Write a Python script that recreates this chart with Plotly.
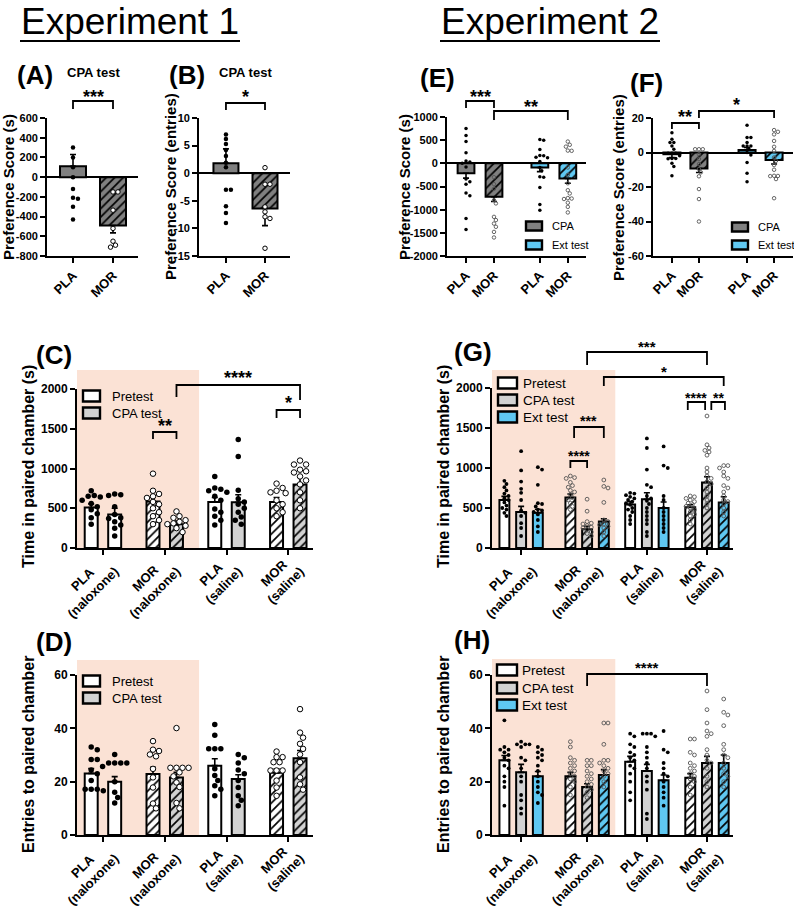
import plotly.graph_objects as go

W, H = 794, 907
FONT = "Liberation Sans"

# ====================== DATA ======================
# (A) CPA test - preference score (s)
A_cats = ["PLA", "MOR"]
A_mean = [110, -490]
A_sem = [120, 75]
A_pts = [[300, 200, 100, 0, -120, -210, -220, -300, -430],
         [-150, -150, -335, -520, -650, -690, -710]]

# (B) CPA test - preference score (entries)
B_cats = ["PLA", "MOR"]
B_mean = [1.8, -6.4]
B_sem = [2.6, 3.1]
B_pts = [[7.0, 6.2, 5.3, 4.2, 3.1, 1.9, 1.1, -3.0, -3.0, -6.0, -7.2, -9.0],
         [1.0, -2.0, -2.0, -6.1, -7.0, -7.9, -8.2, -13.6]]

# (E) preference score (s): CPA (PLA, MOR), Ext test (PLA, MOR)
E_cats = ["PLA", "MOR", "PLA", "MOR"]
E_mean = [-215, -720, -90, -325]
E_sem = [105, 105, 90, 105]
E_pts = [[750, 600, 470, 230, 50, 30, 0, -80, -340, -400, -450, -640, -700, -1190, -1430],
         [-300, -450, -550, -795, -865, -1155, -1225, -1300, -1370, -1480, -1600],
         [515, 500, 300, 170, 165, 130, 120, 40, -90, -160, -290, -300, -520, -890, -1010],
         [470, 400, 360, 275, 270, -90, -250, -430, -580, -650, -750, -760, -770, -850, -940, -1060]]

# (F) preference score (entries)
F_cats = ["PLA", "MOR", "PLA", "MOR"]
F_mean = [-1.0, -9.3, 1.5, -4.3]
F_sem = [2.0, 2.3, 1.4, 2.4]
F_pts = [[11.5, 7.7, 5.8, 5.8, 3.8, 1.9, -0.4, -0.4, -0.5, -1.9, -3.5, -3.5, -3.6, -6.2, -8.1, -13.5],
         [1.9, 1.9, 1.9, -1.0, -3.8, -6.7, -9.6, -11.5, -13.8, -21.2, -27.0, -40.0],
         [15.8, 8.7, 8.7, 5.8, 3.8, 3.8, 3.7, 1.9, 0.0, -1.5, -5.8, -12.0, -17.0],
         [13.0, 12.0, 10.5, 6.7, 3.3, 0.9, -2.9, -4.8, -7.3, -10.0, -13.5, -13.6, -13.7, -15.4, -26.5]]

# Group labels for C, D, G, H
grp_labels = ["PLA\u00a0\u00a0\u00a0\u00a0\u00a0<br>(naloxone)", "MOR\u00a0\u00a0\u00a0\u00a0<br>(naloxone)",
              "PLA\u00a0\u00a0\u00a0<br>(saline)", "MOR\u00a0\u00a0<br>(saline)"]
grp_drug = ["PLA", "MOR", "PLA", "MOR"]

# (C) Time in paired chamber (s): Pretest, CPA test
C_Pre_mean = [510, 585, 580, 580]
C_Pre_sem = [45, 60, 55, 55]
C_CPA_mean = [420, 300, 575, 800]
C_CPA_sem = [80, 40, 95, 90]
C_Pre_pts = [[720, 660, 650, 640, 600, 560, 520, 480, 430, 380, 300],
             [935, 720, 680, 650, 630, 580, 550, 500, 450, 400, 350, 300],
             [900, 755, 740, 720, 700, 650, 600, 490, 450, 400, 350, 290],
             [810, 755, 720, 700, 690, 600, 550, 500, 450, 400]]
C_CPA_pts = [[680, 670, 660, 520, 420, 380, 370, 330, 290, 250, 150],
             [460, 400, 380, 350, 330, 310, 300, 280, 250, 200],
             [1365, 1150, 725, 620, 580, 550, 500, 450, 390, 350, 300],
             [1100, 1050, 1050, 985, 965, 950, 900, 850, 800, 700, 600, 500]]

# (D) Entries to paired chamber: Pretest, CPA test
D_Pre_mean = [23.1, 22.9, 26.0, 23.3]
D_Pre_sem = [1.8, 2.5, 2.6, 1.5]
D_CPA_mean = [20.0, 21.6, 21.0, 28.8]
D_CPA_sem = [1.9, 1.9, 1.6, 2.9]
D_Pre_pts = [[33, 32, 28.3, 28.3, 24.4, 23, 20.4, 17.2, 17.2, 17.2, 16.6],
             [35.2, 32, 31.5, 30.2, 29.5, 24.8, 21.6, 17.8, 11.8, 10],
             [41.4, 37.4, 32.3, 32.3, 32.3, 24.8, 22.3, 20.4, 18.5, 17.2, 14.7],
             [31.3, 29.2, 29.2, 27.3, 27.3, 24.2, 24.2, 24.2, 20.4, 17.8, 14.7]]
D_CPA_pts = [[30.2, 27, 27, 27, 27, 25.7, 20, 16, 14.1, 12],
             [40.1, 25.2, 25.2, 25.2, 25.2, 23.5, 22, 19.7, 18, 12, 10],
             [30.2, 29, 27, 24.4, 23, 20.4, 17.8, 14.7, 13, 11],
             [47.2, 38.4, 36.5, 34.2, 32.3, 30.2, 27.3, 21.6, 19, 17]]

# (G) Time in paired chamber (s): Pretest, CPA test, Ext test
G_Pre_mean = [600, 630, 545, 510]
G_Pre_sem = [45, 45, 35, 30]
G_CPA_mean = [450, 235, 610, 820]
G_CPA_sem = [70, 35, 80, 70]
G_Ext_mean = [440, 330, 500, 570]
G_Ext_sem = [45, 35, 75, 70]
G_Pre_pts = [[840, 800, 760, 720, 680, 650, 620, 600, 570, 530, 500, 480, 440, 400],
             [900, 880, 870, 820, 780, 760, 720, 700, 670, 630, 600, 560, 520, 480],
             [690, 680, 660, 640, 620, 600, 580, 560, 540, 500, 480, 450, 400, 350, 300],
             [650, 640, 620, 600, 580, 560, 540, 520, 500, 480, 450, 420, 400, 350, 300]]
G_CPA_pts = [[1210, 970, 830, 740, 690, 600, 470, 440, 400, 310, 250, 150],
             [610, 460, 330, 310, 300, 280, 260, 250, 230, 200, 180, 150],
             [1370, 1250, 980, 790, 760, 650, 620, 590, 550, 500, 450, 400, 350, 300, 200, 150],
             [1650, 1290, 1250, 1220, 1200, 1160, 1000, 950, 900, 870, 830, 800, 750, 700, 650, 600, 550, 500]]
G_Ext_pts = [[1010, 980, 790, 560, 550, 520, 480, 470, 450, 420, 350, 270, 200],
             [850, 770, 750, 570, 350, 330, 300, 290, 270, 250, 200, 150],
             [1270, 1030, 1000, 650, 600, 500, 450, 400, 350, 300, 250, 200],
             [1030, 1030, 1000, 950, 900, 870, 780, 750, 700, 650, 600, 580, 550, 500, 450, 400]]

# (H) Entries to paired chamber: Pretest, CPA test, Ext test
H_Pre_mean = [28, 22, 27.5, 21.5]
H_Pre_sem = [1.8, 1.5, 2.0, 1.5]
H_CPA_mean = [23.5, 18, 24, 27]
H_CPA_sem = [3.0, 1.2, 2.5, 2.5]
H_Ext_mean = [22, 22.5, 20.5, 27]
H_Ext_sem = [1.8, 2.0, 2.0, 3.0]
H_Pre_pts = [[43, 33, 32, 32, 31, 30, 29, 28, 26, 25, 22, 20, 18, 11],
             [35, 33, 29, 28, 27, 26, 25, 24, 23, 22, 21, 20, 18, 15],
             [38, 37, 34, 33, 31, 30, 29, 28, 26, 25, 23, 20, 16, 13],
             [36, 36, 31, 30, 27, 26, 25, 24, 23, 22, 21, 20, 18, 15]]
H_CPA_pts = [[35, 34, 34, 34, 33, 29, 28, 25, 22, 20, 15, 13, 10, 8],
             [28, 28, 26, 26, 24, 23, 22, 21, 20, 19, 18, 17, 16, 14],
             [38, 38, 38, 37, 33, 31, 29, 27, 25, 22, 20, 17, 8, 6],
             [54, 47, 42, 39, 38, 37, 32, 30, 28, 27, 25, 22, 20, 18]]
H_Ext_pts = [[33, 32, 31, 30, 29, 28, 26, 24, 22, 20, 18, 16, 15, 12],
             [42, 42, 34, 28, 28, 27, 26, 25, 24, 23, 22, 20, 18],
             [39, 32, 31, 27, 25, 23, 22, 20, 18, 16, 14, 11],
             [51, 46, 45, 41, 34, 32, 30, 29, 27, 25, 23, 22, 20, 18]]

# ====================== STYLE ======================
DARK = "#808080"
LIGHT = "#d2d2d2"
BLUE = "#5fc8f2"
SHADE = "#fbe2d5"
WHITE = "#ffffff"
LW = 1.8

fig = go.Figure()
shapes = []
annotations = []
AX = {}


def names(k):
    s = "" if k == 1 else str(k)
    return "x" + s, "y" + s, "xaxis" + s, "yaxis" + s


def setup(k, xpx, ypx, xr, yr, xt, xtt, yt, xfs, yfs, zero=False, standoff=0):
    xn, yn, xa, ya = names(k)
    common = dict(showline=True, linecolor="black", linewidth=LW, ticks="outside",
                  ticklen=5, tickwidth=LW, tickcolor="black", showgrid=False,
                  fixedrange=True, automargin=False)
    ytt = [("%g" % v) for v in yt]
    fig.update_layout(**{
        xa: dict(domain=[xpx[0] / W, xpx[1] / W], range=xr, anchor=yn,
                 tickmode="array", tickvals=xt, ticktext=xtt, tickangle=-45,
                 ticklabelstandoff=standoff,
                 tickfont=dict(family=FONT, size=xfs, color="black", weight="bold"),
                 zeroline=False, **common),
        ya: dict(domain=[1 - ypx[1] / H, 1 - ypx[0] / H], range=yr, anchor=xn,
                 tickmode="array", tickvals=yt, ticktext=ytt,
                 tickfont=dict(family=FONT, size=yfs, color="black", weight="bold"),
                 zeroline=zero, zerolinecolor="black", zerolinewidth=LW, **common),
    })
    AX[k] = dict(xppu=(xpx[1] - xpx[0]) / (xr[1] - xr[0]),
                 yppu=(ypx[1] - ypx[0]) / (yr[1] - yr[0]))


def add_bar(k, x, mean, sem, fill, hatched, width):
    xn, yn, _, _ = names(k)
    up = sem if mean >= 0 else 0
    dn = sem if mean < 0 else 0
    marker = dict(color=fill, line=dict(color="black", width=2))
    if hatched:
        marker["pattern"] = dict(shape="/", fgcolor="black", bgcolor=fill, size=6,
                                 solidity=0.28, fillmode="replace")
    fig.add_trace(go.Bar(x=[x], y=[mean], width=[width], marker=marker, xaxis=xn, yaxis=yn,
                         error_y=dict(type="data", symmetric=False, array=[up], arrayminus=[dn],
                                      color="black", thickness=1.6, width=3),
                         showlegend=False, hoverinfo="skip"))


def swarm(vals, size, yppu):
    placed = []
    out = [0.0] * len(vals)
    order = sorted(range(len(vals)), key=lambda i: -vals[i])
    cands = [0.0]
    for j in range(1, 30):
        cands += [j * size * 0.55, -j * size * 0.55]
    for i in order:
        yp = vals[i] * yppu
        chosen = 0.0
        for c in cands:
            if all((c - px) ** 2 + (yp - py) ** 2 >= (size * 0.98) ** 2 for px, py in placed):
                chosen = c
                break
        placed.append((chosen, yp))
        out[i] = chosen
    return out


def add_points(k, x, vals, filled, size, style="big"):
    xn, yn, _, _ = names(k)
    offs = swarm(vals, size, AX[k]["yppu"])
    xs = [x + o / AX[k]["xppu"] for o in offs]
    if filled:
        mk = dict(symbol="circle", size=size, color="black", line=dict(width=0))
    elif style == "big":
        mk = dict(symbol="circle", size=size, color="white", line=dict(color="black", width=1))
    else:
        mk = dict(symbol="circle-open", size=size, color="#555555", line=dict(width=0.9))
    fig.add_trace(go.Scatter(x=xs, y=vals, mode="markers", marker=mk, xaxis=xn, yaxis=yn,
                             showlegend=False, hoverinfo="skip", cliponaxis=False))


def bracket(k, xa, xb, y, ya_end, yb_end, text, ty, fs=18):
    xn = names(k)[0]
    path = "M %f,%f L %f,%f L %f,%f L %f,%f" % (xa, 1 - ya_end / H, xa, 1 - y / H,
                                                 xb, 1 - y / H, xb, 1 - yb_end / H)
    shapes.append(dict(type="path", xref=xn, yref="paper", path=path,
                       line=dict(color="black", width=LW)))
    annotations.append(dict(xref=xn, yref="paper", x=(xa + xb) / 2, y=1 - (ty + 0.25 * fs) / H,
                            text="<b>%s</b>" % text, showarrow=False,
                            font=dict(family=FONT, size=fs, color="black"),
                            xanchor="center", yanchor="middle"))


def text(x, y, s, size, bold=False, angle=0, anchor="center"):
    annotations.append(dict(xref="paper", yref="paper", x=x / W, y=1 - y / H,
                            text=("<b>%s</b>" % s) if bold else s, showarrow=False,
                            textangle=angle, font=dict(family=FONT, size=size, color="black"),
                            xanchor=anchor, yanchor="middle"))


def legend(items, x0, x1, rows, h, tx, fs):
    for (lab, fill), yc in zip(items, rows):
        shapes.append(dict(type="rect", xref="paper", yref="paper", x0=x0 / W, x1=x1 / W,
                           y0=1 - (yc + h / 2) / H, y1=1 - (yc - h / 2) / H,
                           fillcolor=fill, line=dict(color="black", width=2.4)))
        text(tx, yc, lab, fs, anchor="left")


def shade(k, x0, x1, ytop, ybot):
    xn = names(k)[0]
    shapes.append(dict(type="rect", xref=xn, yref="paper", x0=x0, x1=x1,
                       y0=1 - ybot / H, y1=1 - ytop / H, fillcolor=SHADE,
                       line=dict(width=0), layer="below"))


# ====================== PANEL A ======================
posA = [0, 1]
setup(1, (47, 138), (118, 256), [-0.65, 1.625], [-800, 600], posA, A_cats,
      list(range(-800, 601, 200)), 13, 11, zero=True)
for i in range(2):
    add_bar(1, posA[i], A_mean[i], A_sem[i], DARK, A_cats[i] == "MOR", 0.65)
    add_points(1, posA[i], A_pts[i], A_cats[i] == "PLA", 4.5)
bracket(1, 0, 1, 101, 109, 109, "***", 92)

# ====================== PANEL B ======================
setup(2, (199, 290), (118, 256), [-0.69, 1.64], [-15, 10], posA, B_cats,
      [-15, -10, -5, 0, 5, 10], 13, 11, zero=True)
for i in range(2):
    add_bar(2, posA[i], B_mean[i], B_sem[i], DARK, B_cats[i] == "MOR", 0.64)
    add_points(2, posA[i], B_pts[i], B_cats[i] == "PLA", 4.5)
bracket(2, 0, 1, 103, 110, 110, "*", 92)

# ====================== PANEL E ======================
posE = [0, 1, 2.64, 3.64]
setup(3, (447, 586), (117, 256), [-0.68, 4.29], [-2000, 1000], posE, E_cats,
      list(range(-2000, 1001, 500)), 13, 11, zero=True)
for i in range(4):
    add_bar(3, posE[i], E_mean[i], E_sem[i], DARK if i < 2 else BLUE, E_cats[i] == "MOR", 0.6)
    add_points(3, posE[i], E_pts[i], E_cats[i] == "PLA", 3.5, style="small")
bracket(3, posE[0], posE[1], 101, 108, 108, "***", 92)
bracket(3, posE[1], posE[3], 111, 120, 120, "**", 102)

# ====================== PANEL F ======================
posF = [0, 1, 2.78, 3.78]
setup(4, (653, 793), (118, 256), [-0.7, 4.48], [-60, 20], posF, F_cats,
      [-60, -40, -20, 0, 20], 13, 11, zero=True)
for i in range(4):
    add_bar(4, posF[i], F_mean[i], F_sem[i], DARK if i < 2 else BLUE, F_cats[i] == "MOR", 0.63)
    add_points(4, posF[i], F_pts[i], F_cats[i] == "PLA", 3.5, style="small")
bracket(4, posF[0], posF[1], 123, 129, 129, "**", 113)
bracket(4, posF[1], posF[3], 111, 118, 118, "*", 101)

# ====================== PANEL C ======================
posC = [0, 1, 2, 3]
offC = 0.19
setup(5, (77, 313), (389, 548), [-0.42, 3.40], [0, 2000], posC, grp_labels,
      [0, 500, 1000, 1500, 2000], 13, 12, standoff=-8)
shade(5, -0.42, 1.556, 370, 548)
for i in range(4):
    mor = grp_drug[i] == "MOR"
    cpa_fill = WHITE if i == 0 else LIGHT
    add_bar(5, posC[i] - offC, C_Pre_mean[i], C_Pre_sem[i], WHITE, mor, 0.21)
    add_bar(5, posC[i] + offC, C_CPA_mean[i], C_CPA_sem[i], cpa_fill, mor, 0.21)
    add_points(5, posC[i] - offC, C_Pre_pts[i], not mor, 5.5)
    add_points(5, posC[i] + offC, C_CPA_pts[i], not mor, 5.5)
bracket(5, 1 - offC, 1 + offC, 432, 439, 439, "**", 422)
bracket(5, 3 - offC, 3 + offC, 410, 418, 418, "*", 398)
bracket(5, 1 + offC, 3 + offC, 385, 397, 400, "****", 373)
legend([("Pretest", WHITE), ("CPA test", LIGHT)], 83, 100, [396, 413], 11, 110, 13)

# ====================== PANEL D ======================
setup(6, (77, 313), (675, 835), [-0.42, 3.40], [0, 60], posC, grp_labels,
      [0, 20, 40, 60], 13, 12, standoff=-8)
shade(6, -0.42, 1.556, 660, 835)
for i in range(4):
    mor = grp_drug[i] == "MOR"
    cpa_fill = WHITE if i == 0 else LIGHT
    add_bar(6, posC[i] - offC, D_Pre_mean[i], D_Pre_sem[i], WHITE, mor, 0.21)
    add_bar(6, posC[i] + offC, D_CPA_mean[i], D_CPA_sem[i], cpa_fill, mor, 0.21)
    add_points(6, posC[i] - offC, D_Pre_pts[i], not mor, 5.5)
    add_points(6, posC[i] + offC, D_CPA_pts[i], not mor, 5.5)
legend([("Pretest", WHITE), ("CPA test", LIGHT)], 83, 100, [681, 698], 11, 110, 13)

# ====================== PANEL G ======================
posG = [0, 1.065, 2.03, 3.0]
offG = 0.27
setup(7, (492, 733), (388, 548), [-0.47, 3.42], [0, 2000], posG, grp_labels,
      [0, 500, 1000, 1500, 2000], 13, 12, standoff=-8)
shade(7, -0.47, 1.52, 370, 548)
for i in range(4):
    mor = grp_drug[i] == "MOR"
    add_bar(7, posG[i] - offG, G_Pre_mean[i], G_Pre_sem[i], WHITE, mor, 0.16)
    add_bar(7, posG[i], G_CPA_mean[i], G_CPA_sem[i], LIGHT, mor, 0.16)
    add_bar(7, posG[i] + offG, G_Ext_mean[i], G_Ext_sem[i], BLUE, mor, 0.16)
    add_points(7, posG[i] - offG, G_Pre_pts[i], not mor, 3.8, style="small")
    add_points(7, posG[i], G_CPA_pts[i], not mor, 3.8, style="small")
    add_points(7, posG[i] + offG, G_Ext_pts[i], not mor, 3.8, style="small")
bracket(7, posG[1], posG[3], 352, 365, 365, "***", 343, 15)
bracket(7, posG[1] + offG, posG[3] + offG, 377, 386, 386, "*", 368, 15)
bracket(7, posG[3] - offG - 0.04, posG[3] - 0.03, 402, 410, 410, "****", 394, 14)
bracket(7, posG[3] + 0.07, posG[3] + offG + 0.02, 402, 410, 410, "**", 394, 14)
bracket(7, posG[1] - offG, posG[1], 461, 468, 468, "****", 452, 14)
bracket(7, posG[1] - offG + 0.06, posG[1] + offG, 427, 438, 438, "***", 418, 14)
legend([("Pretest", WHITE), ("CPA test", LIGHT), ("Ext test", BLUE)], 498, 517,
       [383, 400, 417], 11, 521, 13.5)

# ====================== PANEL H ======================
setup(8, (492, 733), (675, 835), [-0.47, 3.42], [0, 60], posG, grp_labels,
      [0, 20, 40, 60], 13, 12, standoff=-8)
shade(8, -0.47, 1.52, 659, 835)
for i in range(4):
    mor = grp_drug[i] == "MOR"
    add_bar(8, posG[i] - offG, H_Pre_mean[i], H_Pre_sem[i], WHITE, mor, 0.16)
    add_bar(8, posG[i], H_CPA_mean[i], H_CPA_sem[i], LIGHT, mor, 0.16)
    add_bar(8, posG[i] + offG, H_Ext_mean[i], H_Ext_sem[i], BLUE, mor, 0.16)
    add_points(8, posG[i] - offG, H_Pre_pts[i], not mor, 3.8, style="small")
    add_points(8, posG[i], H_CPA_pts[i], not mor, 3.8, style="small")
    add_points(8, posG[i] + offG, H_Ext_pts[i], not mor, 3.8, style="small")
bracket(8, posG[1], posG[3], 674, 686, 686, "****", 664, 15)
legend([("Pretest", WHITE), ("CPA test", LIGHT), ("Ext test", BLUE)], 497, 517,
       [670, 688, 705], 11, 520, 13.5)

# E / F legends
legend([("CPA", DARK), ("Ext test", BLUE)], 526, 542, [226, 245], 9, 550, 11)
legend([("CPA", DARK), ("Ext test", BLUE)], 732, 748, [227, 245], 9, 756, 11)

# ====================== TEXT ======================
text(130, 22, "Experiment 1", 37)
text(550, 22, "Experiment 2", 37)
shapes.append(dict(type="line", xref="paper", yref="paper", x0=20 / W, x1=240 / W,
                   y0=1 - 41 / H, y1=1 - 41 / H, line=dict(color="black", width=2)))
shapes.append(dict(type="line", xref="paper", yref="paper", x0=440 / W, x1=660 / W,
                   y0=1 - 41 / H, y1=1 - 41 / H, line=dict(color="black", width=2)))

for lab, x, y in [("(A)", 35, 75), ("(B)", 187, 75), ("(E)", 438, 78), ("(F)", 646, 83),
                  ("(C)", 54, 355), ("(D)", 54, 642), ("(G)", 473, 352), ("(H)", 472, 640)]:
    text(x, y, lab, 26, bold=True)

text(93, 73, "CPA test", 13, bold=True)
text(245, 73, "CPA test", 13, bold=True)

text(9, 187, "Preference Score (s)", 15, bold=True, angle=-90)
text(171, 187, "Preference Score (entries)", 15, bold=True, angle=-90)
text(405, 187, "Preference Score (s)", 15, bold=True, angle=-90)
text(618, 188, "Preference Score (entries)", 15, bold=True, angle=-90)
text(28, 467, "Time in paired chamber (s)", 16, bold=True, angle=-90)
text(443, 467, "Time in paired chamber (s)", 16, bold=True, angle=-90)
text(28, 755, "Entries to paired chamber", 16, bold=True, angle=-90)
text(443, 755, "Entries to paired chamber", 16, bold=True, angle=-90)

fig.update_layout(width=W, height=H,
                  margin=dict(l=0, r=0, t=0, b=0, pad=0, autoexpand=False),
                  paper_bgcolor="white", plot_bgcolor="rgba(0,0,0,0)",
                  barmode="overlay", showlegend=False,
                  shapes=shapes, annotations=annotations,
                  font=dict(family=FONT, color="black"))

fig.write_html("out.html")
